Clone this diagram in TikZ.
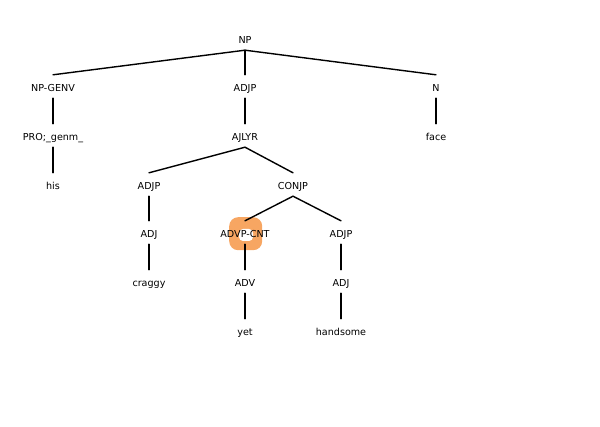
\documentclass[tikz,border=0pt]{standalone}
\usepackage{fontspec}
\setmainfont{DejaVu Sans}
\begin{document}
\begin{tikzpicture}[x=1pt,y=-1pt,
  lbl/.style={inner sep=0pt,text height=16.5pt,text depth=6.5pt,
    font=\fontsize{9.6}{11}\selectfont},
  edge/.style={line width=1.4pt,line cap=round},
  hlouter/.style={fill={rgb,255:red,247;green,166;blue,98},rounded corners=9pt,
    minimum width=33pt,minimum height=33pt,inner sep=0pt},
  hlinner/.style={fill=white,rounded corners=4pt,
    minimum width=14pt,minimum height=12pt,inner sep=0pt}]
\useasboundingbox (0,0) rectangle (600,427);
% highlight around the coordinated adverbial phrase
\node[hlouter] (hl) at (245.7,233.7) {};
\node[hlinner] (hlin) at (246,235) {};
% tree labels
\node[lbl] (np)     at (245,38.5)  {NP};
\node[lbl] (npgenv) at (53,86.5)   {NP-GENV};
\node[lbl] (pro)    at (53,135.5)  {PRO;\_genm\_};
\node[lbl] (his)    at (53,184.5)  {his};
\node[lbl] (adjp)   at (245,86.5)  {ADJP};
\node[lbl] (ajlyr)  at (245,135.5) {AJLYR};
\node[lbl] (n)      at (436,86.5)  {N};
\node[lbl] (face)   at (436,135.5) {face};
\node[lbl] (adjpa)  at (149,184.5) {ADJP};
\node[lbl] (adja)   at (149,232.5) {ADJ};
\node[lbl] (craggy) at (149,281.5) {craggy};
\node[lbl] (conjp)  at (293,184.5) {CONJP};
\node[lbl] (advp)   at (245,232.5) {ADVP-CNT};
\node[lbl] (adv)    at (245,281.5) {ADV};
\node[lbl] (yet)    at (245,330.5) {yet};
\node[lbl] (adjpb)  at (341,232.5) {ADJP};
\node[lbl] (adjb)   at (341,281.5) {ADJ};
\node[lbl] (hand)   at (341,330.5) {handsome};
% branches
\draw[edge] (np.south) -- (npgenv.north);
\draw[edge] (np.south) -- (adjp.north);
\draw[edge] (np.south) -- (n.north);
\draw[edge] (npgenv.south) -- (pro.north);
\draw[edge] (pro.south) -- (his.north);
\draw[edge] (adjp.south) -- (ajlyr.north);
\draw[edge] (n.south) -- (face.north);
\draw[edge] (ajlyr.south) -- (adjpa.north);
\draw[edge] (ajlyr.south) -- (conjp.north);
\draw[edge] (adjpa.south) -- (adja.north);
\draw[edge] (adja.south) -- (craggy.north);
\draw[edge] (conjp.south) -- (advp.north);
\draw[edge] (conjp.south) -- (adjpb.north);
\draw[edge] (advp.south) -- (adv.north);
\draw[edge] (adv.south) -- (yet.north);
\draw[edge] (adjpb.south) -- (adjb.north);
\draw[edge] (adjb.south) -- (hand.north);
\end{tikzpicture}
\end{document}
